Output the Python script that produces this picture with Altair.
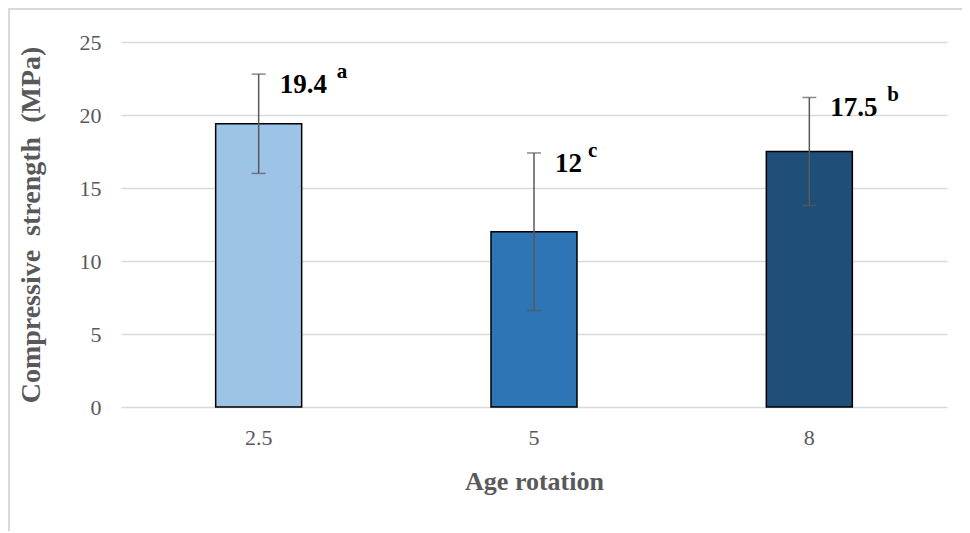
import altair as alt
import pandas as pd

ages = ["2.5", "5", "8"]
strength = [19.4, 12.0, 17.5]
errors = [3.4, 5.4, 3.7]
value_labels = ["19.4", "12", "17.5"]
letters = ["a", "c", "b"]
colors = ["#9DC3E6", "#2E75B6", "#1F4E79"]

df = pd.DataFrame({
    "age": ages,
    "strength": strength,
    "err": errors,
    "label": value_labels,
    "letter": letters,
})

W, H = 826, 365
FONT = "Liberation Serif"

base = alt.Chart(df).transform_calculate(
    lo="datum.strength - datum.err",
    hi="datum.strength + datum.err",
    letter_off=f"{W / 6:.2f} + 30 + length(datum.label) * 12",
)

xs = alt.X("age:N", sort=ages)
x = alt.X("age:N", sort=ages,
          scale=alt.Scale(paddingInner=0, paddingOuter=0),
          axis=alt.Axis(title="Age rotation", labelAngle=0, domain=False, ticks=False,
                        labelPadding=20, titlePadding=20, titleFontSize=26))
y = alt.Y("strength:Q",
          scale=alt.Scale(domain=[0, 25], nice=False, padding=0, zero=True),
          axis=alt.Axis(title="Compressive\u00a0 strength\u00a0 (MPa)", values=[0, 5, 10, 15, 20, 25],
                        domain=False, ticks=False, labelPadding=20, titlePadding=34,
                        titleFontSize=28))

frame = alt.Chart(df).mark_rect(filled=False, stroke="#d9d9d9", strokeWidth=1.5).encode(
    x=alt.value(-112), x2=alt.value(W + 200), y=alt.value(-33), y2=alt.value(H + 300)
)

bars = base.mark_bar(size=86, stroke="black", strokeWidth=1.5).encode(
    x=x, y=y,
    color=alt.Color("age:N", sort=ages, scale=alt.Scale(domain=ages, range=colors), legend=None),
)

rule = base.mark_rule(color="#595959", strokeWidth=1.5).encode(
    x=xs, y="lo:Q", y2="hi:Q"
)
cap_hi = base.mark_tick(color="#595959", size=14, thickness=1.5).encode(x=xs, y="hi:Q")
cap_lo = base.mark_tick(color="#595959", size=14, thickness=1.5).encode(x=xs, y="lo:Q")

nums = base.mark_text(font=FONT, fontWeight="bold", fontSize=27, color="black",
                      align="left", baseline="middle", dx=21, dy=11).encode(
    x=xs, y="hi:Q", text="label:N"
)
lets = base.mark_text(font=FONT, fontWeight="bold", fontSize=21, color="black",
                      align="left", baseline="middle", dy=-2).encode(
    x=xs, y="hi:Q", text="letter:N",
    xOffset=alt.XOffset("letter_off:Q", scale=None),
)

chart = alt.layer(frame, bars, rule, cap_hi, cap_lo, nums, lets).properties(
    width=W, height=H,
    autosize=alt.AutoSizeParams(type="none"),
    padding={"left": 113, "top": 34, "right": 15, "bottom": 124},
).configure_view(stroke=None).configure_axis(
    labelFont=FONT, labelFontSize=22, labelColor="#595959",
    titleFont=FONT, titleFontSize=25, titleColor="#595959", titleFontWeight="bold",
    gridColor="#d9d9d9", gridWidth=1.5,
).configure_axisX(grid=False).configure_scale(continuousPadding=0)

chart.save("out.html", embed_options={"renderer": "svg", "actions": False})
